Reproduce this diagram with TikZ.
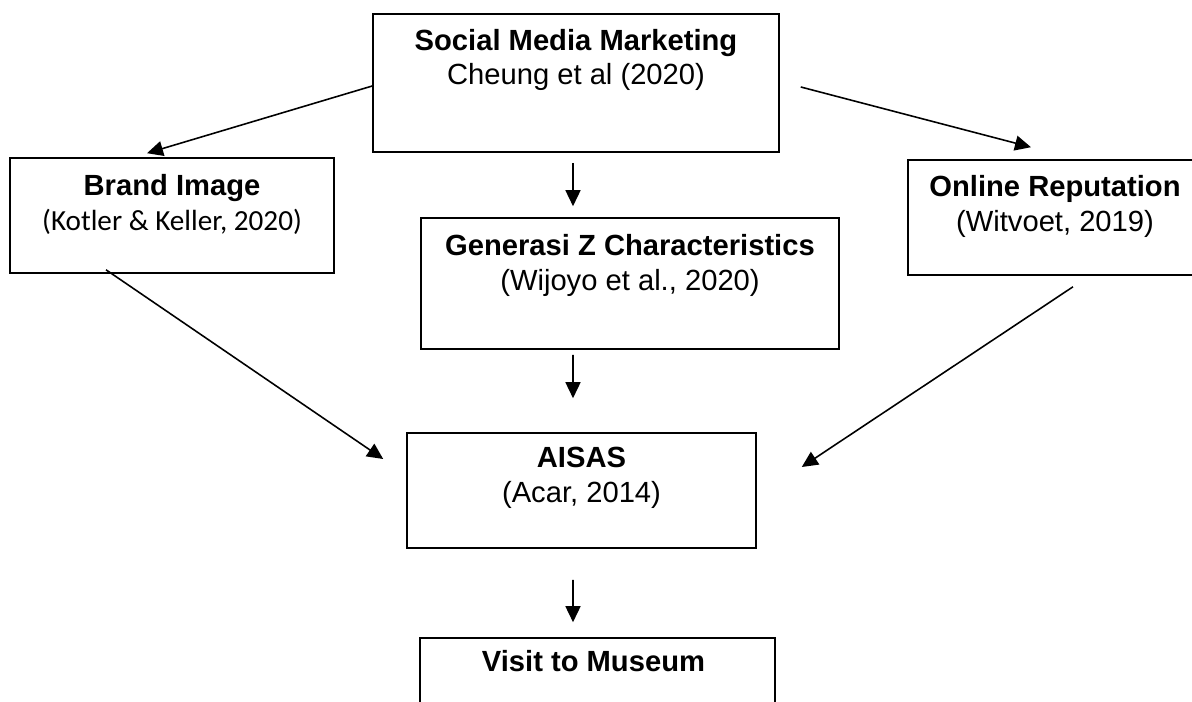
\documentclass[tikz,border=0pt]{standalone}
\usepackage{fontspec}
\setmainfont{Liberation Sans}
\newfontfamily\calibri{Carlito}
\usepackage{tikz}
\usetikzlibrary{
	arrows.meta,
	positioning
}

\begin{document}
\begin{tikzpicture}[
			box/.style={
				rectangle,
				draw,
				line width=0.9pt,
				inner sep=0pt
			},
			txt/.style={
				align=center,
				inner sep=0pt,
				font=\fontsize{16.6pt}{19.6pt}\selectfont
			},
			arr/.style={
				line width=0.9pt,
				-{Triangle[length=3.2mm,width=3mm]}
			}
			]
			
			\clip (0,0) rectangle (23.84,-14.04);
			
			\node[box, minimum width=8.12cm, minimum height=2.76cm] (smm) at (11.52,-1.66) {};
			\node[txt, below=0.31cm of smm.north] (smm-t) {
				\textbf{Social Media Marketing}\\
				Cheung et al (2020)
			};
			
			\node[box, minimum width=6.48cm, minimum height=2.30cm] (brand) at (3.44,-4.31) {};
			\node[txt, below=0.34cm of brand.north] (brand-t) {
				\textbf{Brand Image}\\
				{\calibri (Kotler \& Keller, 2020)}
			};
			
			\node[box, minimum width=8.36cm, minimum height=2.62cm] (gen) at (12.60,-5.67) {};
			\node[txt, below=0.34cm of gen.north] (gen-t) {
				\textbf{Generasi Z Characteristics}\\
				(Wijoyo et al., 2020)
			};
			
			\node[box, minimum width=5.88cm, minimum height=2.30cm] (online) at (21.10,-4.35) {};
			\node[txt, below=0.32cm of online.north] (online-t) {
				\textbf{Online Reputation}\\
				(Witvoet, 2019)
			};
			
			\node[box, minimum width=6.98cm, minimum height=2.30cm] (aisas) at (11.63,-9.81) {};
			\node[txt, below=0.30cm of aisas.north] (aisas-t) {
				\textbf{AISAS}\\
				(Acar, 2014)
			};
			
			\node[box, minimum width=7.10cm, minimum height=2.30cm] (visit) at (11.95,-13.91) {};
			\node[txt, below=0.26cm of visit.north] (visit-t) {
				\textbf{Visit to Museum}
			};
			
			\draw[arr] ([yshift=-0.06cm]smm.west) -- ([shift={(-0.5,0.08)}]brand.north);
			\draw[arr] ([shift={(0.42,-0.08)}]smm.east) -- ([shift={(-0.48,0.24)}]online.north);
			\draw[arr] ([shift={(-0.06,-0.2)}]smm.south) -- ([shift={(-1.14,0.22)}]gen.north);
			\draw[arr] ([shift={(-1.14,-0.1)}]gen.south) -- ([shift={(-0.17,0.68)}]aisas.north);
			\draw[arr] ([shift={(-1.32,0.08)}]brand.south) -- ([shift={(-0.46,0.63)}]aisas.west);
			\draw[arr] ([shift={(0.36,-0.22)}]online.south) -- ([shift={(0.9,0.47)}]aisas.east);
			\draw[arr] ([shift={(-0.17,-0.62)}]aisas.south) -- ([shift={(-0.49,0.3)}]visit.north);
			
		\end{tikzpicture}
\end{document}
